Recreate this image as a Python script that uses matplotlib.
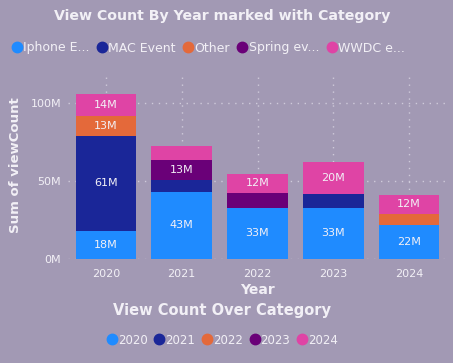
import numpy as np
import matplotlib.pyplot as plt
from matplotlib.lines import Line2D

years = ["2020", "2021", "2022", "2023", "2024"]
categories = ["Iphone E...", "MAC Event", "Other", "Spring ev...", "WWDC e..."]
# view counts in millions, per category, per year
iphone = [18, 43, 33, 33, 22]
mac = [61, 7.5, 0, 9, 0]
other = [13, 0, 0, 0, 7]
spring = [0, 13, 9.5, 0, 0]
wwdc = [14, 9, 12, 20, 12]
series = [iphone, mac, other, spring, wwdc]
colors = ["#1F8BFF", "#1A2698", "#E4693A", "#6A0078", "#DF44A5"]
y_ticks = [0, 50, 100]
y_tick_labels = ["0M", "50M", "100M"]

bg = "#A299B4"
fg = "#F2F0F6"

fig = plt.figure(figsize=(4.53, 3.63), dpi=100, facecolor=bg)
ax = fig.add_axes([68 / 453, 1 - 259 / 363, 379 / 453, 187 / 363], facecolor=bg)

x = np.arange(len(years))
bottom = np.zeros(len(years))
for vals, col in zip(series, colors):
    vals = np.array(vals, dtype=float)
    ax.bar(x, vals, 0.8, bottom=bottom, color=col, zorder=3)
    for xi, b, v in zip(x, bottom, vals):
        if v >= 11:
            ax.text(xi, b + v / 2, f"{v:.0f}M", ha="center", va="center",
                    color=fg, fontsize=8, zorder=4)
    bottom += vals

ax.set_xlim(-0.5, len(years) - 0.5)
ax.set_ylim(0, 120)
ax.set_xticks(x)
ax.set_xticklabels(years)
ax.set_yticks(y_ticks)
ax.set_yticklabels(y_tick_labels)
ax.tick_params(colors=fg, labelsize=8, length=0)
ax.tick_params(axis="x", pad=7)
ax.tick_params(axis="y", pad=5)
ax.grid(True, color="#CFCADA", linestyle=(0, (1, 4)), linewidth=1, zorder=0)
for s in ax.spines.values():
    s.set_visible(False)
ax.set_xlabel("Year", color=fg, fontsize=10, fontweight="bold", labelpad=3)
ax.set_ylabel("Sum of viewCount", color=fg, fontsize=9.5, fontweight="bold", labelpad=6)

fig.text(222 / 453, 1 - 16 / 363, "View Count By Year marked with Category",
         ha="center", va="center", color=fg, fontsize=10.2, fontweight="bold")
fig.text(222 / 453, 1 - 311 / 363, "View Count Over Category",
         ha="center", va="center", color=fg, fontsize=10.5, fontweight="bold")

h1 = [Line2D([], [], marker="o", linestyle="", color=c, markersize=7.5) for c in colors]
fig.legend(h1, categories, loc="center left", bbox_to_anchor=(0.012, 1 - 48 / 363),
           ncol=5, frameon=False, handletextpad=0.0, columnspacing=0.5,
           labelcolor=fg, fontsize=9, borderaxespad=0, handlelength=1.0)
fig.legend(h1, years, loc="center", bbox_to_anchor=(222 / 453, 1 - 340 / 363),
           ncol=5, frameon=False, handletextpad=0.0, columnspacing=0.5,
           labelcolor=fg, fontsize=8.5, borderaxespad=0, handlelength=1.0)

fig.savefig("out.png", dpi=100, facecolor=bg)
